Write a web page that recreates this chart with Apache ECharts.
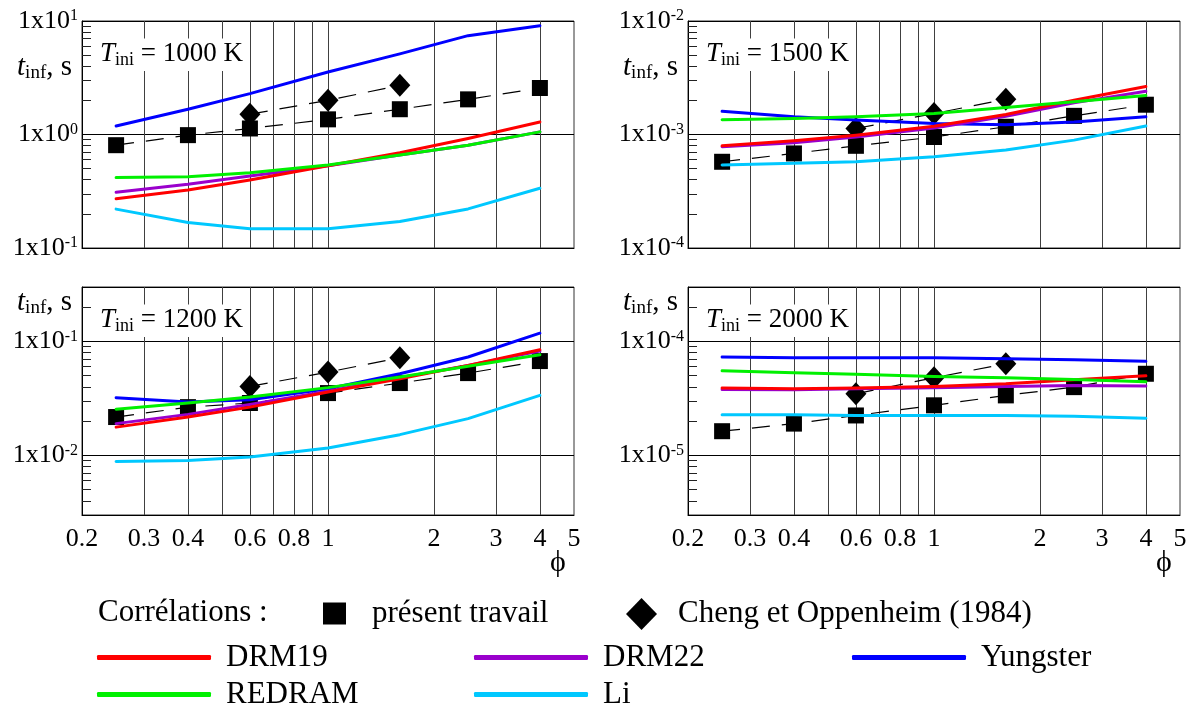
<!DOCTYPE html>
<html>
<head>
<meta charset="utf-8">
<script src="https://cdn.jsdelivr.net/npm/echarts@6/dist/echarts.min.js"></script>
<style>
html,body{margin:0;padding:0;background:#fff;}
#chart{width:1195px;height:711px;}
</style>
</head>
<body>
<div id="chart"></div>
<script>
// ---------------- data ----------------
const phi = [0.25, 0.4, 0.6, 1, 1.6, 2.5, 4];
const phiCheng = [0.6, 1, 1.6];
const xTickLabels = [0.2, 0.3, 0.4, 0.6, 0.8, 1, 2, 3, 4, 5];
const xGridValues = [0.3, 0.4, 0.5, 0.6, 0.7, 0.8, 0.9, 1, 2, 3, 4];

// T_ini = 1000 K
const t1000_present  = [0.805, 0.987, 1.13, 1.36, 1.67, 2.04, 2.57];
const t1000_cheng    = [1.51, 2.0, 2.71];
const t1000_DRM19    = [0.271, 0.325, 0.398, 0.531, 0.690, 0.923, 1.29];
const t1000_DRM22    = [0.310, 0.364, 0.431, 0.531, 0.659, 0.805, 1.055];
const t1000_Yungster = [1.19, 1.67, 2.29, 3.55, 5.13, 7.43, 9.1];
const t1000_REDRAM   = [0.417, 0.425, 0.461, 0.538, 0.659, 0.805, 1.055];
const t1000_Li       = [0.220, 0.168, 0.148, 0.148, 0.171, 0.221, 0.336];

// T_ini = 1500 K
const t1500_present  = [5.75e-4, 6.81e-4, 7.95e-4, 9.5e-4, 1.17e-3, 1.46e-3, 1.83e-3];
const t1500_cheng    = [1.13e-3, 1.53e-3, 2.04e-3];
const t1500_DRM19    = [7.95e-4, 8.8e-4, 9.87e-4, 1.18e-3, 1.50e-3, 2.0e-3, 2.65e-3];
const t1500_DRM22    = [7.8e-4, 8.45e-4, 9.5e-4, 1.14e-3, 1.45e-3, 1.90e-3, 2.40e-3];
const t1500_Yungster = [1.60e-3, 1.43e-3, 1.34e-3, 1.25e-3, 1.22e-3, 1.29e-3, 1.43e-3];
const t1500_REDRAM   = [1.35e-3, 1.38e-3, 1.43e-3, 1.53e-3, 1.73e-3, 1.94e-3, 2.21e-3];
const t1500_Li       = [5.38e-4, 5.57e-4, 5.75e-4, 6.37e-4, 7.29e-4, 8.92e-4, 1.19e-3];

// T_ini = 1200 K
const t1200_present  = [0.0217, 0.0265, 0.0288, 0.0352, 0.0431, 0.0527, 0.0672];
const t1200_cheng    = [0.0403, 0.0538, 0.0719];
const t1200_DRM19    = [0.0177, 0.0217, 0.0265, 0.0360, 0.0471, 0.0616, 0.0845];
const t1200_DRM22    = [0.0190, 0.0229, 0.0280, 0.0366, 0.0480, 0.0616, 0.0823];
const t1200_Yungster = [0.0321, 0.0294, 0.0308, 0.0385, 0.0520, 0.0729, 0.118];
const t1200_REDRAM   = [0.0254, 0.0288, 0.0325, 0.0393, 0.0487, 0.0604, 0.0764];
const t1200_Li       = [0.00886, 0.00904, 0.00967, 0.0116, 0.0152, 0.0210, 0.0336];

// T_ini = 2000 K
const t2000_present  = [1.63e-5, 1.90e-5, 2.24e-5, 2.75e-5, 3.36e-5, 3.97e-5, 5.2e-5];
const t2000_cheng    = [3.47e-5, 4.8e-5, 6.37e-5];
const t2000_DRM19    = [3.90e-5, 3.85e-5, 3.90e-5, 4.03e-5, 4.25e-5, 4.61e-5, 5.0e-5];
const t2000_DRM22    = [3.79e-5, 3.77e-5, 3.85e-5, 3.93e-5, 4.03e-5, 4.11e-5, 4.06e-5];
const t2000_Yungster = [7.29e-5, 7.20e-5, 7.19e-5, 7.19e-5, 7.05e-5, 6.90e-5, 6.68e-5];
const t2000_REDRAM   = [5.53e-5, 5.31e-5, 5.14e-5, 4.93e-5, 4.80e-5, 4.64e-5, 4.43e-5];
const t2000_Li       = [2.27e-5, 2.27e-5, 2.24e-5, 2.24e-5, 2.24e-5, 2.20e-5, 2.12e-5];

const panelTemps = ['1000', '1500', '1200', '2000'];
const yMin = [0.1, 1e-4, 0.003, 3e-6];
const yMax = [10, 1e-2, 0.3, 3e-4];

const panels = [
  {present: t1000_present, cheng: t1000_cheng, DRM19: t1000_DRM19, DRM22: t1000_DRM22, Yungster: t1000_Yungster, REDRAM: t1000_REDRAM, Li: t1000_Li},
  {present: t1500_present, cheng: t1500_cheng, DRM19: t1500_DRM19, DRM22: t1500_DRM22, Yungster: t1500_Yungster, REDRAM: t1500_REDRAM, Li: t1500_Li},
  {present: t1200_present, cheng: t1200_cheng, DRM19: t1200_DRM19, DRM22: t1200_DRM22, Yungster: t1200_Yungster, REDRAM: t1200_REDRAM, Li: t1200_Li},
  {present: t2000_present, cheng: t2000_cheng, DRM19: t2000_DRM19, DRM22: t2000_DRM22, Yungster: t2000_Yungster, REDRAM: t2000_REDRAM, Li: t2000_Li}
];

const NAME_PRESENT = 'présent travail';
const NAME_CHENG = 'Cheng et Oppenheim (1984)';
const lineNames = ['Li', 'Yungster', 'DRM22', 'DRM19', 'REDRAM']; // drawing order
const lineColors = {DRM19: '#ff0000', DRM22: '#9a00cc', Yungster: '#0000ff', REDRAM: '#00f000', Li: '#00c8ff'};

// ---------------- layout / style ----------------
const FONT = "'Liberation Serif', 'Times New Roman', serif";
const grids = [
  {left: 82,  top: 21,  width: 492, height: 227},
  {left: 688, top: 21,  width: 492, height: 227},
  {left: 82,  top: 287, width: 492, height: 228},
  {left: 688, top: 287, width: 492, height: 228}
];

function minorTicks(min, max) {
  const out = [];
  const e0 = Math.floor(Math.log10(min)) , e1 = Math.ceil(Math.log10(max));
  for (let e = e0; e <= e1; e++) {
    for (let k = 2; k <= 9; k++) {
      const v = +(k * Math.pow(10, e)).toPrecision(6);
      if (v > min * 1.0001 && v < max * 0.9999) out.push(v);
    }
  }
  return out;
}

function powLabel(v) {
  const e = Math.log10(v);
  const r = Math.round(e);
  if (Math.abs(e - r) > 1e-6) return '';
  return '{m|1x10}{s|' + r + '}';
}

const axisRich = {
  m: {fontFamily: FONT, fontSize: 26, color: '#000'},
  s: {fontFamily: FONT, fontSize: 16, color: '#000', verticalAlign: 'top'}
};
const nameRich = {
  it: {fontFamily: FONT, fontSize: 29, fontWeight: 'normal', fontStyle: 'italic', color: '#000', lineHeight: 32},
  sub: {fontFamily: FONT, fontSize: 19, fontWeight: 'normal', color: '#000', verticalAlign: 'bottom'},
  n: {fontFamily: FONT, fontSize: 29, fontWeight: 'normal', color: '#000', lineHeight: 32}
};
const tRich = {
  it: {fontFamily: FONT, fontSize: 27, fontWeight: 'normal', fontStyle: 'italic', color: '#000', lineHeight: 30},
  sub: {fontFamily: FONT, fontSize: 18, fontWeight: 'normal', color: '#000', verticalAlign: 'bottom'},
  n: {fontFamily: FONT, fontSize: 27, fontWeight: 'normal', color: '#000', lineHeight: 30}
};

const xAxes = [], yAxes = [], series = [], titles = [];
grids.forEach((g, i) => {
  const bottom = i >= 2;
  xAxes.push({
    type: 'log', logBase: 10, gridIndex: i, min: 0.2, max: 5,
    axisLine: {show: true, onZero: false, lineStyle: {color: '#000', width: 1}},
    axisTick: {show: false, customValues: xGridValues},
    splitLine: {show: true, lineStyle: {color: '#404040', width: 1}},
    minorTick: {show: false}, minorSplitLine: {show: false},
    axisLabel: {
      show: bottom, customValues: xTickLabels, margin: 11,
      fontFamily: FONT, fontSize: 26, color: '#000',
      formatter: v => String(+Number(v).toPrecision(4))
    },
    name: bottom ? 'ϕ' : '',
    nameLocation: 'end', nameGap: -16, nameMoveOverlap: false,
    nameTextStyle: {fontFamily: FONT, fontSize: 30, color: '#000', align: 'center', verticalAlign: 'top', padding: [33, 0, 0, 0]}
  });
  yAxes.push({
    type: 'log', logBase: 10, gridIndex: i, min: yMin[i], max: yMax[i], position: 'left',
    axisLine: {show: true, onZero: false, lineStyle: {color: '#000', width: 1}},
    axisTick: {show: false},
    splitLine: {show: true, lineStyle: {color: '#000', width: 1}},
    axisLabel: {show: true, margin: 4, formatter: powLabel, rich: axisRich, showMinLabel: true, showMaxLabel: true, hideOverlap: false},
    name: '{it|t}{sub|inf}{n|, s}',
    nameLocation: 'end', nameGap: bottom ? -15 : -46, nameMoveOverlap: false,
    nameTextStyle: {align: 'right', verticalAlign: 'middle', padding: [0, 10, 0, 0], rich: nameRich}
  });
  titles.push({
    text: '{it|T}{sub|ini}{n| = ' + panelTemps[i] + ' K}',
    left: g.left + 12, top: g.top + 16,
    padding: [2, 6, 2, 6], backgroundColor: '#fff', itemGap: 0,
    textStyle: {fontWeight: 'normal', rich: tRich}
  });
});
// extra y axes (same grid, left side) only for the minor ticks
grids.forEach((g, i) => {
  yAxes.push({
    type: 'log', logBase: 10, gridIndex: i, min: yMin[i], max: yMax[i], position: 'left', offset: 0,
    axisLine: {show: false},
    axisTick: {show: true, inside: true, length: 9, customValues: minorTicks(yMin[i], yMax[i]), lineStyle: {color: '#222', width: 1}},
    splitLine: {show: false},
    axisLabel: {show: false}
  });
});

titles.push({
  text: 'Corrélations :', left: 98, top: 597, padding: 0,
  textStyle: {fontFamily: FONT, fontSize: 31, fontWeight: 'normal', color: '#000'}
});

panels.forEach((p, i) => {
  series.push({
    type: 'line', name: NAME_PRESENT, xAxisIndex: i, yAxisIndex: i, z: 2,
    data: phi.map((x, k) => [x, p.present[k]]),
    symbol: 'rect', symbolSize: 16, showSymbol: true,
    itemStyle: {color: '#000'},
    lineStyle: {color: '#000', width: 1.2, type: [18, 12]},
    animation: false
  });
  series.push({
    type: 'line', name: NAME_CHENG, xAxisIndex: i, yAxisIndex: i, z: 2,
    data: phiCheng.map((x, k) => [x, p.cheng[k]]),
    symbol: 'diamond', symbolSize: [21, 23], showSymbol: true,
    itemStyle: {color: '#000'},
    lineStyle: {color: '#000', width: 1.2, type: [18, 12]},
    animation: false
  });
  lineNames.forEach(n => {
    series.push({
      type: 'line', name: n, xAxisIndex: i, yAxisIndex: i, z: 3,
      data: phi.map((x, k) => [x, p[n][k]]),
      symbol: 'none', showSymbol: false,
      itemStyle: {color: lineColors[n]},
      lineStyle: {color: lineColors[n], width: 3, cap: 'round', join: 'round'},
      animation: false
    });
  });
});

const legTxt = pad => ({fontFamily: FONT, fontSize: 31, color: '#000', padding: [0, 0, 0, pad]});
function lineLegend(name, left, top) {
  return {data: [{name: name, icon: 'roundRect'}], left: left, top: top, padding: 0,
    itemWidth: 114, itemHeight: 5, selectedMode: false, textStyle: legTxt(10)};
}
const legends = [
  {data: [{name: NAME_PRESENT, icon: 'rect'}], left: 323, top: 598, padding: 0,
   itemWidth: 23, itemHeight: 22, selectedMode: false, textStyle: legTxt(21)},
  {data: [{name: NAME_CHENG, icon: 'diamond'}], left: 626, top: 598, padding: 0,
   itemWidth: 31, itemHeight: 32, selectedMode: false, textStyle: legTxt(16)},
  lineLegend('DRM19', 97, 642),
  lineLegend('DRM22', 474, 642),
  lineLegend('Yungster', 852, 642),
  lineLegend('REDRAM', 97, 679),
  lineLegend('Li', 474, 679)
];

const chart = echarts.init(document.getElementById('chart'), null, {renderer: 'canvas'});
chart.setOption({
  backgroundColor: '#fff',
  animation: false,
  title: titles,
  legend: legends,
  grid: grids.map(g => Object.assign({show: true, borderColor: '#333', borderWidth: 1, backgroundColor: 'transparent'}, g)),
  xAxis: xAxes,
  yAxis: yAxes,
  series: series
});
</script>
</body>
</html>
